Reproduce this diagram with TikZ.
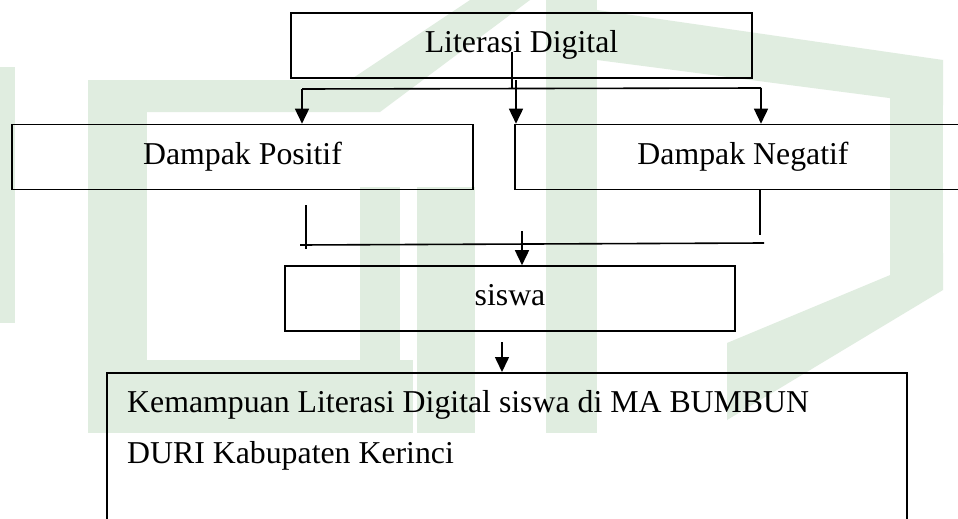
\documentclass[tikz,border=0pt]{standalone}
\usepackage{fontspec}
\setmainfont{Liberation Serif}
\usetikzlibrary{arrows.meta}
\definecolor{wm}{RGB}{224,237,224}
\begin{document}
\begin{tikzpicture}[x=1pt,y=-1pt,
  every node/.style={font=\fontsize{31.8}{38}\selectfont},
  box/.style={draw=black, line width=1.6pt, inner sep=0pt, text height=21pt, text depth=7pt, minimum height=65pt},
  conn/.style={line width=1.6pt},
  arr/.style={line width=1.6pt, -{Triangle[width=14pt,length=15pt]}},
  wmark/.style={fill=wm}]
\useasboundingbox (0,0) rectangle (958,519);
\clip (0,0) rectangle (958,519);
\fill[white] (0,0) rectangle (958,519);
% faint watermark
\fill[wmark] (0,67) rectangle (15,323);
\fill[wmark] (88,80) rectangle (147,433);
\fill[wmark] (147,360) rectangle (413,433);
\fill[wmark] (360,187) rectangle (400,360);
\fill[wmark] (88,80) -- (350,80) -- (470,0) -- (530,0) -- (380,112) -- (88,112) -- cycle;
\fill[wmark] (417,187) rectangle (475,433);
\fill[wmark] (546,0) rectangle (597,433);
\fill[wmark] (890,67) rectangle (943,290);
\fill[wmark] (597,10) -- (943,60) -- (943,105) -- (597,60) -- cycle;
\fill[wmark] (727,343) -- (943,253) -- (943,290) -- (727,420) -- cycle;
% boxes
\node[box, minimum width=461pt] (lit) at (521.5,45.5) {Literasi Digital};
\node[box, minimum width=461pt] (pos) at (242.5,157) {Dampak Positif};
\node[box, minimum width=456pt] (neg) at (743,157) {Dampak Negatif};
\node[box, minimum width=450pt] (sis) at (510,298.5) {siswa};
\node[box, minimum width=800pt, minimum height=180pt, anchor=north west] (has) at (106,372) {};
\node[anchor=base west, inner sep=0pt] (t1) at (127,412) {Kemampuan Literasi Digital siswa di MA BUMBUN};
\node[anchor=base west, inner sep=0pt] (t2) at (127,463) {DURI Kabupaten Kerinci};
% upper connectors
\coordinate (s1) at (512,52);
\coordinate (s2) at (512,89);
\draw[conn] (s1) -- (s2);
\coordinate (hL) at (302,89);
\coordinate (hR) at (761,88);
\draw[conn] (hL) -- (hR);
\draw[arr] (hL) -- (hL |- pos.north);
\draw[arr] (hR) -- (hR |- neg.north);
\coordinate (m1) at (516,80);
\draw[arr] (m1) -- (m1 |- neg.north);
% lower connectors
\coordinate (p1) at (306,205);
\coordinate (p2) at (306,249);
\draw[conn] (p1) -- (p2);
\coordinate (n1) at (760,235);
\draw[conn] (neg.south -| n1) -- (n1);
\coordinate (b1) at (300,245);
\coordinate (b2) at (764,243);
\draw[conn] (b1) -- (b2);
\coordinate (c1) at (522,231);
\draw[arr] (c1) -- (c1 |- sis.north);
\coordinate (d1) at (502,342);
\draw[arr] (d1) -- (d1 |- has.north);
\end{tikzpicture}
\end{document}
